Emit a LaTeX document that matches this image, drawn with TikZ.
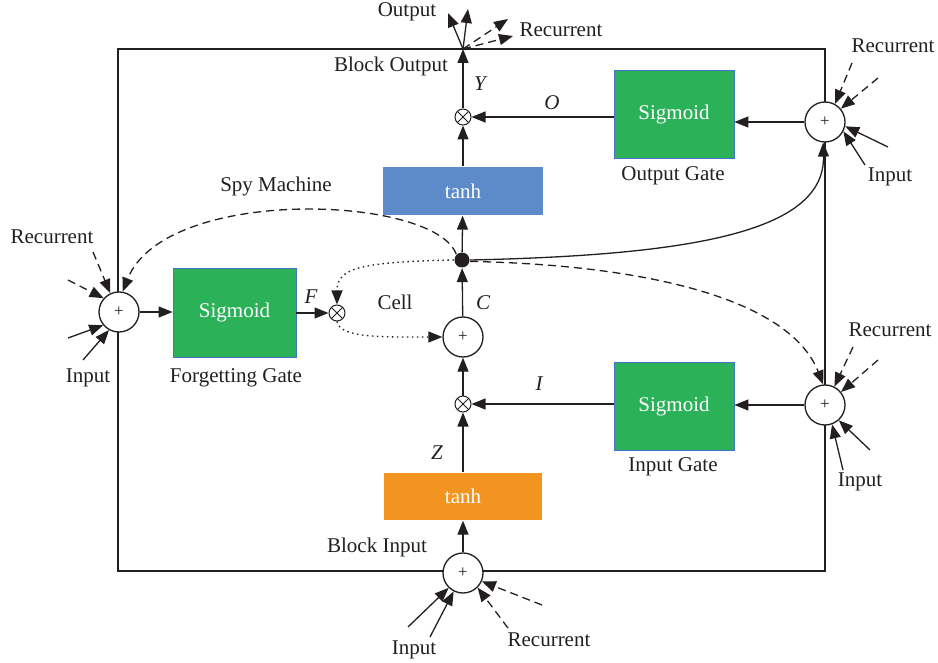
\documentclass[tikz,border=0pt]{standalone}
\usepackage{fontspec}
\setmainfont{Liberation Serif}
\usetikzlibrary{arrows.meta}
\definecolor{gr}{RGB}{43,177,88}
\definecolor{bl}{RGB}{93,139,201}
\definecolor{og}{RGB}{244,148,32}
\definecolor{edgebl}{RGB}{68,114,196}
\definecolor{ln}{RGB}{35,31,32}
\tikzset{
  sumnode/.style={circle,draw,fill=white,minimum size=40pt,inner sep=0pt,font=\fontsize{17}{17}\selectfont},
  mulnode/.style={circle,draw,fill=white,minimum size=16pt,inner sep=0pt,line width=1pt,
    path picture={\draw[line width=1pt] (path picture bounding box.north west)--(path picture bounding box.south east)
      (path picture bounding box.north east)--(path picture bounding box.south west);}},
  dotnode/.style={circle,fill=ln,minimum size=15pt,inner sep=0pt},
  sigbox/.style={draw=edgebl,line width=0.8pt,fill=gr,text=white,minimum width=120pt,minimum height=88pt,inner sep=0pt},
  tanhbox/.style={text=white,inner sep=0pt},
  lbl/.style={inner sep=1pt},
  var/.style={inner sep=1pt,font=\fontsize{21}{24}\selectfont\itshape},
  recarrow/.style={->,dash pattern=on 8pt off 5pt},
  dotarrow/.style={->,dash pattern=on 1.5pt off 3.5pt},
}
\begin{document}
\begin{tikzpicture}[x=1pt,y=-1pt,color=ln,line width=1.3pt,font=\fontsize{21}{24}\selectfont,
  >={Triangle[length=14pt,width=11pt]}]
\useasboundingbox (0,0) rectangle (938,663);
% frame
\coordinate (fTL) at (118,49);
\coordinate (fBR) at (825,571);
\draw (fTL) rectangle (fBR);
% boxes
\node[sigbox] (sigO) at (674,114) {Sigmoid};
\node[sigbox,minimum width=123pt,minimum height=89pt] (sigF) at (234.5,312.5) {Sigmoid};
\node[sigbox] (sigI) at (674,406.5) {Sigmoid};
\node[tanhbox,fill=bl,minimum width=160pt,minimum height=48pt] (tanhO) at (463,191) {tanh};
\node[tanhbox,fill=og,minimum width=158pt,minimum height=47pt] (tanhI) at (463,496.5) {tanh};
% sums
\node[sumnode] (sTR) at (825,122) {+};
\node[sumnode] (sBR) at (825,405) {+};
\node[sumnode] (sL) at (119,312) {+};
\node[sumnode] (sB) at (463,573) {+};
\node[sumnode] (sC) at (463,337) {+};
% multipliers
\node[mulnode] (mO) at (463,117) {};
\node[mulnode] (mF) at (337,313) {};
\node[mulnode] (mI) at (463,404) {};
\node[dotnode] (dot) at (462,260) {};
% main connectors
\draw[->] (sTR) -- (sigO.east |- sTR);
\draw[->] (sigO.west |- mO) -- (mO);
\coordinate (bo) at (463,49);
\draw[->] (mO) -- (bo);
\draw[->] (tanhO) -- (mO);
\draw[->] (dot) -- (tanhO);
\draw[->] (sC) -- (dot);
\draw[->] (mI) -- (sC);
\draw[->] (tanhI) -- (mI);
\draw[->] (sB) -- (tanhI);
\draw[->] (sigI.west |- mI) -- (mI);
\draw[->] (sBR) -- (sigI.east |- sBR);
\draw[->] (sL) -- (sigF.west |- sL);
\draw[->] (sigF.east |- mF) -- (mF);
% curves from the cell node
\draw[->] (dot.east) .. controls (700,255) and (825,230) .. (sTR.265);
\draw[recarrow] (dot.north west) .. controls (435,195) and (165,185) .. (sL.80);
\draw[recarrow] (dot.-10) .. controls (650,265) and (790,300) .. (sBR.95);
\draw[dotarrow] (dot.west) .. controls (360,262) and (337,268) .. (mF.north);
\draw[dotarrow] (mF.south) .. controls (340,338) and (380,337) .. (sC.west);
% block output
\coordinate (out1) at (448,13);
\coordinate (out2) at (468,9);
\coordinate (rc1) at (508,19);
\coordinate (rc2) at (513,36);
\draw[->] (bo) -- (out1);
\draw[->] (bo) -- (out2);
\draw[recarrow] (bo) -- (rc1);
\draw[recarrow] (bo) -- (rc2);
% external inputs top right
\coordinate (tr1) at (852,63);
\coordinate (tr2) at (878,78);
\coordinate (tr3) at (888,147);
\coordinate (tr4) at (865,165);
\draw[recarrow] (tr1) -- (sTR.61);
\draw[recarrow] (tr2) -- (sTR.40);
\draw[->] (tr3) -- (sTR.-12);
\draw[->] (tr4) -- (sTR.-27);
% external inputs bottom right
\coordinate (br1) at (853,347);
\coordinate (br2) at (878,360);
\coordinate (br3) at (843,470);
\coordinate (br4) at (870,450);
\draw[recarrow] (br1) -- (sBR.63);
\draw[recarrow] (br2) -- (sBR.39);
\draw[->] (br3) -- (sBR.-70);
\draw[->] (br4) -- (sBR.-48);
% external inputs left
\coordinate (l1) at (93,252);
\coordinate (l2) at (68,280);
\coordinate (l3) at (68,338);
\coordinate (l4) at (83,360);
\draw[recarrow] (l1) -- (sL.115);
\draw[recarrow] (l2) -- (sL.138);
\draw[->] (l3) -- (sL.220);
\draw[->] (l4) -- (sL.241);
% external inputs bottom
\coordinate (b1) at (408,627);
\coordinate (b2) at (430,637);
\coordinate (b3) at (508,628);
\coordinate (b4) at (542,605);
\draw[->] (b1) -- (sB.226);
\draw[->] (b2) -- (sB.243);
\draw[recarrow] (b3) -- (sB.-45);
\draw[recarrow] (b4) -- (sB.-24);
% labels
\node[lbl] (tOut) at (407,12) {Output};
\node[lbl] (tRecT) at (561,30) {Recurrent};
\node[lbl] (tBO) at (391,66) {Block Output};
\node[var] (tY) at (480,84) {Y};
\node[var] (tO) at (552,103) {O};
\node[lbl] (tOG) at (673,176) {Output Gate};
\node[lbl] (tRecTR) at (893,46) {Recurrent};
\node[lbl] (tInTR) at (890,177) {Input};
\node[lbl] (tSpy) at (276,186) {Spy Machine};
\node[lbl] (tRecL) at (52,237) {Recurrent};
\node[lbl] (tInL) at (88,378) {Input};
\node[var] (tF) at (311,297) {F};
\node[lbl] (tCell) at (395,302) {Cell};
\node[var] (tC) at (483,303) {C};
\node[lbl] (tFG) at (236,378) {Forgetting Gate};
\node[lbl] (tRecBR) at (890,330) {Recurrent};
\node[var] (tI) at (539,384) {I};
\node[lbl] (tIG) at (673,467) {Input Gate};
\node[lbl] (tInBR) at (860,482) {Input};
\node[var] (tZ) at (437,453) {Z};
\node[lbl] (tBI) at (377,547) {Block Input};
\node[lbl] (tInB) at (414,650) {Input};
\node[lbl] (tRecB) at (549,640) {Recurrent};
\end{tikzpicture}
\end{document}
